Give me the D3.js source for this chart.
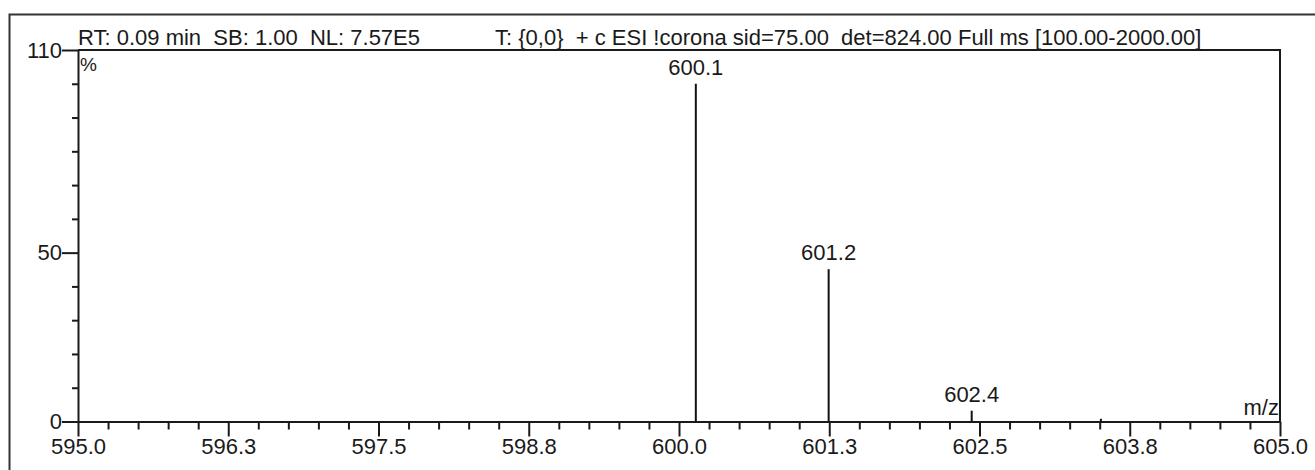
<!DOCTYPE html>
<html>
<head>
<meta charset="utf-8">
<script src="https://cdn.jsdelivr.net/npm/d3@7"></script>
<style>
  html, body { margin: 0; padding: 0; background: #fff; }
  svg { display: block; }
  text { font-family: "Liberation Sans", Arial, sans-serif; fill: #1a1a1a; }
</style>
</head>
<body>
<svg id="chart" width="1315" height="470"></svg>
<script>
// ---- data ----
const peakMz = [600.14, 601.245, 602.435, 603.51];
const peakIntensity = [100, 45.1, 3.2, 0.8];
const peakLabels = ["600.1", "601.2", "602.4", ""];

const xDomain = [595.0, 605.0];
const xMajorTicks = [595.0, 596.25, 597.5, 598.75, 600.0, 601.25, 602.5, 603.75, 605.0];
const xTickLabels = ["595.0", "596.3", "597.5", "598.8", "600.0", "601.3", "602.5", "603.8", "605.0"];
const xMinorStep = 0.25;

const yDomain = [0, 110];
const yMajorTicks = [0, 50, 110];
const yTickLabels = ["0", "50", "110"];
const yMinorTicks = [10, 20, 30, 40, 60, 70, 80, 90, 100];

const headerLeft = "RT: 0.09 min  SB: 1.00  NL: 7.57E5";
const headerRight = "T: {0,0}  + c ESI !corona sid=75.00  det=824.00 Full ms [100.00-2000.00]";
const yUnit = "%";
const xUnit = "m/z";

// ---- layout ----
const svg = d3.select("#chart");
const L = 78, R = 1280, T = 50, B = 421.5;
const ink = "#1a1a1a";
const fs = 22;

const x = d3.scaleLinear().domain(xDomain).range([L, R]);
const y = d3.scaleLinear().domain(yDomain).range([B, T]);

// outer frame
svg.append("rect")
  .attr("x", 9.5).attr("y", 14.5).attr("width", 1400).attr("height", 600)
  .attr("fill", "none").attr("stroke", "#333").attr("stroke-width", 2);

// top line and right line of plot
svg.append("path")
  .attr("d", `M${L},${T}H${R}V${B}`)
  .attr("fill", "none").attr("stroke", ink).attr("stroke-width", 2);

// x minor ticks
const xMinor = d3.range(xDomain[0], xDomain[1] + 1e-9, xMinorStep)
  .filter(v => !xMajorTicks.some(m => Math.abs(m - v) < 1e-6));
const gxMinor = svg.append("g").attr("transform", `translate(0,${B})`)
  .call(d3.axisBottom(x).tickValues(xMinor).tickSize(8).tickSizeOuter(0).tickFormat(""));
gxMinor.select(".domain").remove();

// x major axis
const gx = svg.append("g").attr("transform", `translate(0,${B})`)
  .call(d3.axisBottom(x).tickValues(xMajorTicks).tickSize(15).tickSizeOuter(0)
    .tickPadding(2).tickFormat((d, i) => xTickLabels[i]));

// y minor ticks
const gyMinor = svg.append("g").attr("transform", `translate(${L},0)`)
  .call(d3.axisLeft(y).tickValues(yMinorTicks).tickSize(6).tickSizeOuter(0).tickFormat(""));
gyMinor.select(".domain").remove();

// y major axis
const gy = svg.append("g").attr("transform", `translate(${L},0)`)
  .call(d3.axisLeft(y).tickValues(yMajorTicks).tickSize(16).tickSizeOuter(0)
    .tickPadding(0).tickFormat((d, i) => yTickLabels[i]));

svg.selectAll(".tick line, .domain").attr("stroke", ink).attr("stroke-width", 2);
svg.selectAll(".tick text")
  .attr("font-family", '"Liberation Sans", Arial, sans-serif')
  .attr("font-size", fs).attr("fill", ink);

// peaks
const peaks = peakMz.map((m, i) => ({ mz: m, it: peakIntensity[i], label: peakLabels[i] }));
svg.append("g").selectAll("line").data(peaks).join("line")
  .attr("x1", d => x(d.mz)).attr("x2", d => x(d.mz))
  .attr("y1", y(0)).attr("y2", d => y(d.it))
  .attr("stroke", "#111").attr("stroke-width", 2);

svg.append("g").selectAll("text").data(peaks.filter(d => d.label)).join("text")
  .attr("x", d => x(d.mz)).attr("y", d => y(d.it) - 9)
  .attr("text-anchor", "middle").attr("font-size", fs)
  .text(d => d.label);

// header
svg.append("text").attr("x", 78).attr("y", 45).attr("font-size", fs)
  .style("white-space", "pre").text(headerLeft);
svg.append("text").attr("x", 495).attr("y", 45).attr("font-size", fs)
  .style("white-space", "pre").text(headerRight);

// unit labels
svg.append("text").attr("x", 80).attr("y", 71).attr("font-size", 19).text(yUnit);
svg.append("text").attr("x", 1279).attr("y", 415).attr("font-size", fs)
  .attr("text-anchor", "end").text(xUnit);
</script>
</body>
</html>
